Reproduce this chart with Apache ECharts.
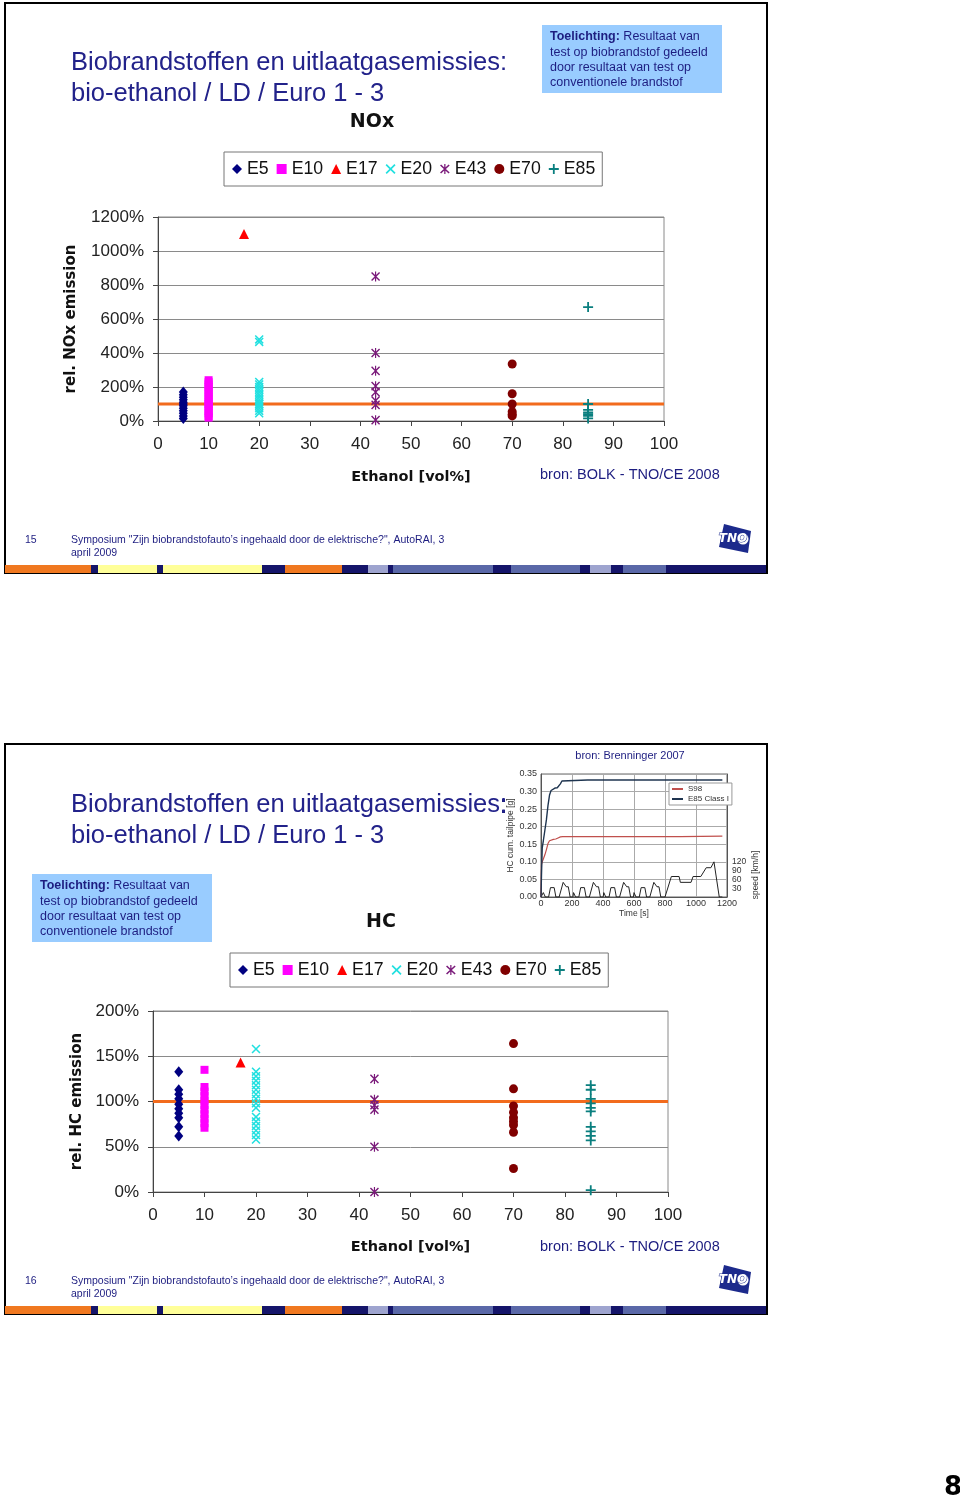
<!DOCTYPE html>
<html><head><meta charset="utf-8">
<script src="https://cdn.jsdelivr.net/npm/echarts@6/dist/echarts.min.js"></script>
<style>html,body{margin:0;padding:0;background:#fff}#c{width:960px;height:1500px}</style>
</head><body><div id="c"></div>
<script>
// ---------- DATA ----------
const fuels = ['E5','E10','E17','E20','E43','E70','E85'];
const ethanol = [5,10,17,20,43,70,85];
// relative NOx emission [%]
const noxE5  = [170,155,140,125,110,100,90,75,60,45,30,15];
const noxE10 = [240,228,215,200,185,170,155,140,125,110,100,90,75,60,45,30,20];
const noxE17 = [1100];
const noxE20 = [480,465,230,215,200,185,170,155,140,125,110,100,90,75,60,45];
const noxE43 = [850,400,295,205,170,120,95,5];
const noxE70 = [335,160,100,55,40,30];
const noxE85 = [670,100,65,50,40,30,15];
// relative HC emission [%]
const hcE5  = [133,113,108,103,97,92,87,82,72,62];
const hcE10 = [135,116,111,106,101,96,91,86,81,76,71];
const hcE17 = [143];
const hcE20 = [158,133,128,123,118,113,108,103,98,93,83,78,73,68,63,58];
const hcE43 = [125,102,96,91,50,0];
const hcE70 = [164,114,95,88,82,78,74,66,26];
const hcE85 = [118,113,103,98,93,89,72,67,62,57,2];
const refLevel = 100;
// inset: HC cumulative tailpipe [g] vs time [s] (Brenninger 2007)
const s98T = [0,3,8,15,25,35,45,55,65,80,95,110,125,140,300,600,900,1170];
const s98V = [0,0.092,0.100,0.108,0.120,0.135,0.152,0.160,0.163,0.164,0.165,0.168,0.171,0.172,0.172,0.172,0.172,0.173];
const e85T = [0,3,8,15,25,35,45,55,65,75,90,105,115,125,135,145,300,600,900,1170];
const e85V = [0,0.06,0.14,0.16,0.19,0.22,0.26,0.29,0.303,0.308,0.31,0.311,0.315,0.322,0.33,0.332,0.333,0.333,0.333,0.333];
// inset: driving speed [km/h]
const speedT = [0,11,15,23,28,49,61,85,96,117,143,155,163,176,188,195,
  206,210,218,223,244,256,280,291,312,338,350,358,371,383,390,
  401,405,413,418,439,451,475,486,507,533,545,553,566,578,585,
  596,600,608,613,634,646,670,681,702,728,740,748,761,773,780,
  800,841,891,899,968,981,1031,1066,1096,1116,1126,1150,1170];
const speedV = [0,0,15,15,0,0,32,32,0,0,50,50,35,35,0,0,
  0,15,15,0,0,32,32,0,0,50,50,35,35,0,0,
  0,15,15,0,0,32,32,0,0,50,50,35,35,0,0,
  0,15,15,0,0,32,32,0,0,50,50,35,35,0,0,
  0,70,70,50,50,70,70,100,100,120,120,0,0];

// ---------- STYLES ----------
const NAVY = '#1d1d80';
const FF = 'Liberation Sans, Arial, sans-serif';
const PATH_X = 'path://M0,1.2L1.2,0L10,8.8L8.8,10Z M8.8,0L10,1.2L1.2,10L0,8.8Z';
const PATH_AST = 'path://M0,1.5L1.1,0.4L10,8.9L8.9,10Z M8.9,0.4L10,1.5L1.1,10L0,8.9Z M4.35,0H5.65V10.4H4.35Z';
const PATH_PLUS = 'path://M4.1,0H5.9V10H4.1Z M0,4.1H10V5.9H0Z';
const sym = {
  E5:{symbol:'diamond', size:[9,11], color:'#000080'},
  E10:{symbol:'rect', size:[8,8], color:'#ff00ff'},
  E17:{symbol:'triangle', size:[10,10], color:'#ff0000'},
  E20:{symbol:PATH_X, size:[9,9], color:'#22e0e0'},
  E43:{symbol:PATH_AST, size:[9,10], color:'#7a1a7a'},
  E70:{symbol:'circle', size:[9,9], color:'#800000'},
  E85:{symbol:PATH_PLUS, size:[10,10], color:'#0a7f7f'}
};
const noxSets = [noxE5,noxE10,noxE17,noxE20,noxE43,noxE70,noxE85];
const hcSets = [hcE5,hcE10,hcE17,hcE20,hcE43,hcE70,hcE85];

function scatterSeries(sets, gi){
  return fuels.map((f,i)=>({
    type:'scatter', name:f, xAxisIndex:gi, yAxisIndex:gi, z:3,
    symbol:sym[f].symbol, symbolSize:sym[f].size,
    itemStyle:{color:sym[f].color, opacity:1},
    data: sets[i].map(v=>[ethanol[i], v]),
    silent:true
  }));
}
function refSeries(gi){
  return {type:'line', name:'ref'+gi, xAxisIndex:gi, yAxisIndex:gi, z:2, showSymbol:false, silent:true,
    lineStyle:{color:'#f26b1d', width:3}, data:[[0,refLevel],[100,refLevel]]};
}
function zip(a,b){return a.map((t,i)=>[t,b[i]]);}

function mainX(gi, nameGap){
  return {gridIndex:gi, type:'value', min:0, max:100, interval:10,
    axisLine:{show:true,onZero:false,lineStyle:{color:'#444',width:1}},
    axisTick:{show:true,length:5,lineStyle:{color:'#444'}},
    axisLabel:{fontSize:17,color:'#222',margin:15,fontFamily:FF,formatter:v=>String(v)},
    splitLine:{show:false},
    name:'Ethanol [vol%]', nameLocation:'middle', nameGap:nameGap,
    nameTextStyle:{fontFamily:'DejaVu Sans',fontWeight:'bold',fontSize:14.5,color:'#111'}};
}
function mainY(gi, max, interval, name, nameGap){
  return {gridIndex:gi, type:'value', min:0, max:max, interval:interval,
    axisLine:{show:true,lineStyle:{color:'#444',width:1}},
    axisTick:{show:true,length:5,lineStyle:{color:'#444'}},
    axisLabel:{fontSize:17,color:'#222',margin:14,fontFamily:FF,formatter:v=>String(v)+'%'},
    splitLine:{show:true,lineStyle:{color:'#8a8a8a',width:1}},
    name:name, nameLocation:'middle', nameGap:nameGap, nameRotate:90,
    nameTextStyle:{fontFamily:'DejaVu Sans',fontWeight:'bold',fontSize:15,color:'#111'}};
}
function legendFor(top,left){
  return {show:true, left:left, top:top, orient:'horizontal', data:fuels, selectedMode:false,
    itemWidth:10, itemHeight:10, itemGap:8, padding:[8,7,8,8],
    borderColor:'#777', borderWidth:1, backgroundColor:'#fff',
    textStyle:{fontSize:17.7,color:'#111',fontFamily:FF}};
}

// ---------- GRAPHICS (text & decoration) ----------
function T(x,y,text,o){
  return {type:'text', x:x, y:y, silent:true, z:10, rotation:(o&&o.rot)||0,
    style:Object.assign({text:text, fontFamily:FF, fontSize:12, fill:'#000',
      textAlign:'left', align:'left', textVerticalAlign:'middle', verticalAlign:'middle'}, o||{})};
}
function R(x,y,w,h,fill,stroke,lw){
  return {type:'rect', silent:true, z:1, shape:{x:x,y:y,width:w,height:h},
    style:{fill:fill||'none', stroke:stroke||null, lineWidth:lw||0}};
}
const stripeSegs = [[5,91,'#f07820'],[91,98,'#15156a'],[98,157,'#ffff99'],[157,163,'#15156a'],[163,262,'#ffff99'],
  [262,285,'#15156a'],[285,342,'#f07820'],[342,368,'#15156a'],[368,388,'#9ea4cf'],[388,393,'#15156a'],
  [393,493,'#5a68a8'],[493,511,'#15156a'],[511,580,'#5a68a8'],[580,590,'#15156a'],[590,611,'#9ea4cf'],
  [611,623,'#15156a'],[623,666,'#5a68a8'],[666,766,'#15156a']];
function slide(y0, num){
  const g = [];
  g.push(R(5,y0,762,570,'none','#000',2));
  stripeSegs.forEach(s=>g.push(R(s[0],y0+562,s[1]-s[0],8,s[2])));
  g.push(T(25,y0+537,String(num),{fontSize:10.5,fill:NAVY}));
  g.push(T(71,y0+537,'Symposium "Zijn biobrandstofauto’s ingehaald door de elektrische?", AutoRAI, 3',{fontSize:10.5,fill:NAVY}));
  g.push(T(71,y0+550,'april 2009',{fontSize:10.5,fill:NAVY}));
  // TNO logo
  g.push({type:'polygon', silent:true, z:5, shape:{points:[[724,y0+521],[751,y0+528],[748,y0+550],[719,y0+544]]}, style:{fill:'#1c2a8c'}});
  g.push({type:'circle', silent:true, z:6, shape:{cx:743,cy:y0+536,r:5.5}, style:{fill:'#fff'}});
  g.push(T(733,y0+536,'TNO',{fontSize:12,fontWeight:'bold',fontStyle:'italic',fill:'#fff',stroke:'#1c2a8c',lineWidth:1,textAlign:'center',align:'center',fontFamily:'DejaVu Sans'}));
  return g;
}
function note(x,y){
  return [R(x,y,180,68,'#99ccff'),
    {type:'text', x:x+8, y:y+4, silent:true, z:10, style:{
      text:'{b|Toelichting:} Resultaat van\ntest op biobrandstof gedeeld\ndoor resultaat van test op\nconventionele brandstof',
      fontFamily:FF, fontSize:12.5, fill:NAVY, lineHeight:15.4, textAlign:'left', align:'left',
      textVerticalAlign:'top', verticalAlign:'top',
      rich:{b:{fontFamily:FF, fontSize:12.5, fontWeight:'bold', fill:NAVY, color:NAVY, lineHeight:15.4}}}}];
}
const titleStyle = {fontSize:25.5, fill:'#22228a'};
const graphics = [].concat(
  slide(3,15),
  slide(744,16),
  [T(71,63,'Biobrandstoffen en uitlaatgasemissies:',titleStyle),
   T(71,94,'bio-ethanol / LD / Euro 1 - 3',titleStyle),
   T(372,122,'NOx',{fontFamily:'DejaVu Sans',fontWeight:'bold',fontSize:19,fill:'#111',textAlign:'center',align:'center'}),
   T(540,475,'bron: BOLK - TNO/CE 2008',{fontSize:14.5,fill:NAVY}),
   T(71,805,'Biobrandstoffen en uitlaatgasemissies:',titleStyle),
   T(71,836,'bio-ethanol / LD / Euro 1 - 3',titleStyle),
   T(381,922,'HC',{fontFamily:'DejaVu Sans',fontWeight:'bold',fontSize:19,fill:'#111',textAlign:'center',align:'center'}),
   T(540,1247,'bron: BOLK - TNO/CE 2008',{fontSize:14.5,fill:NAVY}),
   T(630,756,'bron: Brenninger 2007',{fontSize:11,fill:NAVY,textAlign:'center',align:'center'}),
   T(756,875,'speed [km/h]',{fontSize:8.5,fill:'#333',textAlign:'center',align:'center',rot:Math.PI/2}),
   R(502,799,3,3,NAVY), R(502,810,3,3,NAVY),
   T(953,1488,'8',{fontFamily:'DejaVu Sans',fontWeight:'bold',fontSize:26,fill:'#000',textAlign:'center',align:'center'})
  ],
  note(542,25),
  note(32,874)
);

// ---------- OPTION ----------
const option = {
  animation:false,
  backgroundColor:'#fff',
  textStyle:{fontFamily:FF},
  grid:[
    {left:158, top:217, width:506, height:204, show:true, borderColor:'#8a8a8a', borderWidth:1, backgroundColor:'#fff'},
    {left:153, top:1011, width:515, height:181, show:true, borderColor:'#8a8a8a', borderWidth:1, backgroundColor:'#fff'},
    {left:541, top:774, width:186, height:123, show:true, borderColor:'#666', borderWidth:1, backgroundColor:'#fff'}
  ],
  xAxis:[
    mainX(0,49),
    mainX(1,48),
    {gridIndex:2, type:'value', min:0, max:1200, interval:200,
      axisLine:{show:true,onZero:false,lineStyle:{color:'#555'}}, axisTick:{show:false},
      axisLabel:{fontSize:9,color:'#333',margin:2,fontFamily:FF,formatter:v=>String(v)},
      splitLine:{show:true,lineStyle:{color:'#aaa',width:1}},
      name:'Time [s]', nameLocation:'middle', nameGap:12,
      nameTextStyle:{fontSize:8.5,color:'#333',fontFamily:FF}}
  ],
  yAxis:[
    mainY(0,1200,200,'rel. NOx emission',79),
    mainY(1,200,50,'rel. HC emission',67),
    {gridIndex:2, type:'value', min:0, max:0.35, interval:0.05,
      axisLine:{show:true,lineStyle:{color:'#555'}}, axisTick:{show:false},
      axisLabel:{fontSize:9,color:'#333',margin:4,fontFamily:FF,formatter:v=>v.toFixed(2)},
      splitLine:{show:true,lineStyle:{color:'#aaa',width:1}},
      name:'HC cum. tailpipe [g]', nameLocation:'middle', nameGap:22, nameRotate:90,
      nameTextStyle:{fontSize:8.5,color:'#333',fontFamily:FF}},
    {gridIndex:2, type:'value', min:0, max:420, interval:30, position:'right',
      axisLine:{show:true,lineStyle:{color:'#555'}}, axisTick:{show:false},
      axisLabel:{fontSize:8.5,color:'#333',margin:5,fontFamily:FF,formatter:v=>(v<=120?String(v):'')},
      splitLine:{show:false}}
  ],
  legend:[
    legendFor(152,224),
    legendFor(953,230),
    {show:true, left:669, top:783, orient:'vertical', data:['S98','E85 Class I'], selectedMode:false,
      icon:'rect', itemWidth:11, itemHeight:2, itemGap:2, padding:[2,3,2,3], itemStyle:{},
      borderColor:'#999', borderWidth:1, backgroundColor:'#fff',
      textStyle:{fontSize:8,color:'#333',fontFamily:FF}}
  ],
  series: [].concat(
    [refSeries(0)], scatterSeries(noxSets,0),
    [refSeries(1)], scatterSeries(hcSets,1),
    [
      {type:'line', name:'speed', xAxisIndex:2, yAxisIndex:3, showSymbol:false, silent:true,
        lineStyle:{color:'#222',width:1}, itemStyle:{color:'#222'}, data:zip(speedT,speedV)},
      {type:'line', name:'S98', xAxisIndex:2, yAxisIndex:2, showSymbol:false, silent:true,
        lineStyle:{color:'#c0504d',width:1.2}, itemStyle:{color:'#c0504d'}, data:zip(s98T,s98V)},
      {type:'line', name:'E85 Class I', xAxisIndex:2, yAxisIndex:2, showSymbol:false, silent:true,
        lineStyle:{color:'#1f3550',width:1.4}, itemStyle:{color:'#1f3550'}, data:zip(e85T,e85V)}
    ]
  ),
  graphic: graphics
};
const chart = echarts.init(document.getElementById('c'), null, {renderer:'canvas', width:960, height:1500});
chart.setOption(option);
</script>
</body></html>
